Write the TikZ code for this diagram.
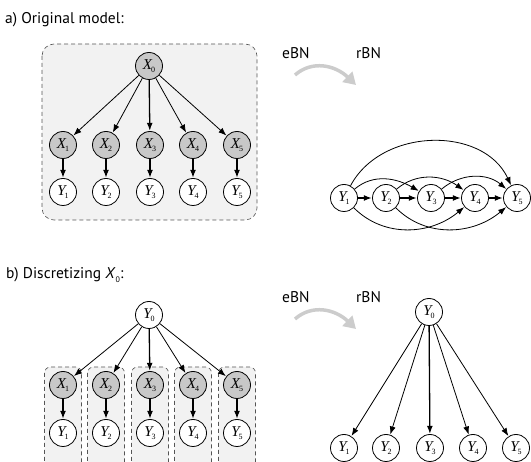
\documentclass[tikz,border=0pt]{standalone}
\usepackage{fontspec}
\setmainfont{PT Sans}
\newfontfamily\lblfont{Liberation Serif}
\usetikzlibrary{arrows.meta}

\definecolor{nodegray}{HTML}{C8C8C8}
\definecolor{panelgray}{HTML}{F2F2F2}
\definecolor{dashgray}{HTML}{555555}
\definecolor{swoopgray}{HTML}{CCCCCC}

% variable label: italic serif letter with a small upright index
\newcommand{\vlab}[2]{{\lblfont\fontsize{15}{15}\selectfont\itshape #1\kern-1pt\raisebox{-0.45ex}{\upshape\fontsize{8}{8}\selectfont #2}}}

\tikzset{
  bnvar/.style={circle, draw=black, line width=0.8pt, minimum size=27pt, inner sep=0pt, fill=white},
  hidvar/.style={bnvar, fill=nodegray},
  edge/.style={-{Latex[length=8pt,width=6pt]}, line width=0.8pt, shorten >=0.3pt},
  edgeaxis/.style={edge, line width=1.3pt},
  panel/.style={draw=dashgray, fill=panelgray, line width=0.6pt, dash pattern=on 4pt off 3pt},
  caption/.style={anchor=base west, inner sep=0pt, font=\fontsize{15.5}{15.5}\selectfont},
  swoop/.style={draw=swoopgray, line width=3.5pt, -{Triangle[length=12pt,width=14pt]}},
}

% eBN -> rBN marker, drawn at a vertical offset
\newcommand{\ebnrbn}[2]{%
  \node[caption] (ebn#1) at (282,#2) {eBN};
  \node[caption] (rbn#1) at (356,#2) {rBN};
  \coordinate (sw#1a) at (295,#2+16);
  \coordinate (sw#1b) at (356,#2+26);
  \draw[swoop] (sw#1a) .. controls (312,#2+1) and (335,#2+6) .. (sw#1b);
}

\begin{document}
\begin{tikzpicture}[x=1pt,y=-1pt]
\useasboundingbox (0,0) rectangle (531,462);
\begin{scope}
\clip (0,0) rectangle (531,462);

% ---------------- a) original model ----------------
\node[caption] (capa) at (5,24) {a) Original model:};
\draw[panel, rounded corners=12pt] (42,44) rectangle (257,220);

\node[hidvar] (x0) at (149,66) {\vlab{X}{0}};
\foreach \i/\xx in {1/63,2/106,3/150,4/193,5/237}{
  \node[hidvar] (x\i) at (\xx,145) {\vlab{X}{\i}};
  \node[bnvar]  (y\i) at (\xx,192) {\vlab{Y}{\i}};
  \draw[edgeaxis] (x\i) -- (y\i);
}
\foreach \i in {1,2,4,5}{ \draw[edge] (x0) -- (x\i); }
\draw[edgeaxis] (x0) -- (x3);

\ebnrbn{a}{59}

\foreach \i/\xx in {1/344,2/386,3/431,4/475,5/517}{
  \node[bnvar] (r\i) at (\xx,198) {\vlab{Y}{\i}};
}
\foreach \i/\j in {1/2,2/3,3/4,4/5}{ \draw[edgeaxis] (r\i) -- (r\j); }
\draw[edge] (r1) to[out=62,in=115,looseness=1.05] (r5);
\draw[edge] (r1) to[out=40,in=150] (r3);
\draw[edge] (r2) to[out=40,in=145] (r4);
\draw[edge] (r3) to[out=40,in=140] (r5);
\draw[edge] (r1) to[out=-45,in=-140] (r4);
\draw[edge] (r2) to[out=-45,in=-140] (r5);

% ---------------- b) discretizing X0 ----------------
\node[caption] (capb) at (6,279) {b) Discretizing \textit{X}\raisebox{-0.5ex}{\fontsize{8}{8}\selectfont 0}:};

\foreach \xx in {63,106,150,193,237}{
  \draw[panel, rounded corners=6pt] (\xx-18.5,475) -- (\xx-18.5,367) -- (\xx+18.5,367) -- (\xx+18.5,475);
}
\node[bnvar] (v0) at (149,315) {\vlab{Y}{0}};
\foreach \i/\xx in {1/63,2/106,3/150,4/193,5/237}{
  \node[hidvar] (u\i) at (\xx,385) {\vlab{X}{\i}};
  \node[bnvar]  (w\i) at (\xx,433) {\vlab{Y}{\i}};
  \draw[edgeaxis] (u\i) -- (w\i);
}
\foreach \i in {1,2,4,5}{ \draw[edge] (v0) -- (u\i); }
\draw[edgeaxis] (v0) -- (u3);

\ebnrbn{b}{303}

\node[bnvar] (s0) at (429,312) {\vlab{Y}{0}};
\foreach \i/\xx in {1/344,2/386,3/430,4/473,5/516}{
  \node[bnvar] (s\i) at (\xx,448) {\vlab{Y}{\i}};
}
\foreach \i in {1,2,4,5}{ \draw[edge] (s0) -- (s\i); }
\draw[edgeaxis] (s0) -- (s3);
\end{scope}
\end{tikzpicture}
\end{document}
